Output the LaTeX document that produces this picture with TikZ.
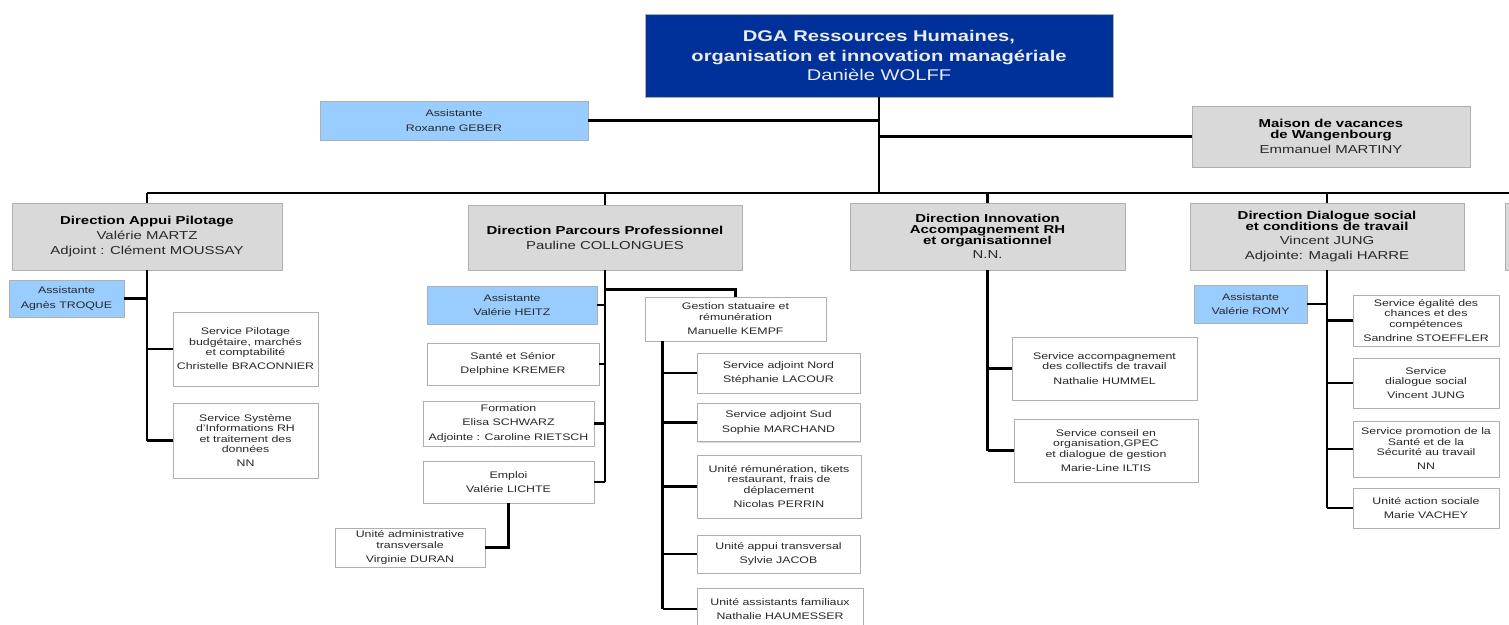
\documentclass[tikz,border=0pt]{standalone}
\usepackage{fontspec}
\setmainfont[FakeStretch=1.3]{Liberation Sans}
\usetikzlibrary{shadows}

\definecolor{dgablue}{RGB}{0,48,153}
\definecolor{asstblue}{RGB}{153,204,255}
\definecolor{dirgray}{RGB}{217,217,217}
\definecolor{edgegray}{RGB}{175,175,175}
\definecolor{txtgray}{RGB}{40,40,40}

\tikzset{
  base/.style={draw=edgegray, line width=.6pt, align=center, inner sep=0pt,
    text=txtgray, drop shadow={shadow xshift=1.2pt, shadow yshift=-1.2pt, opacity=.3}},
  dgabox/.style={base, fill=dgablue, text=white!92!black, font=\fontsize{15.5}{19.5}\selectfont},
  asst/.style={base, fill=asstblue, font=\fontsize{9.5}{14.5}\selectfont},
  dirbox/.style={base, fill=dirgray, font=\fontsize{11.5}{11}\selectfont},
  svc/.style={base, fill=white, font=\fontsize{9.5}{10.5}\selectfont},
  link/.style={line width=2.7pt, black}
}
\newcommand{\hd}[1]{{\bfseries\color{black}#1}}

\begin{document}
\begin{tikzpicture}[x=1pt, y=-1pt]
\useasboundingbox (0,0) rectangle (1509,624);

% top level
\node [dgabox, minimum width=468, minimum height=83] (dga) at (879,55.5)
  {\bfseries DGA Ressources Humaines,\\\bfseries organisation et innovation managériale\\Danièle WOLFF};
\node [asst, minimum width=268, minimum height=39] (roxanne) at (454,120.5) {Assistante\\Roxanne GEBER};
\node [dirbox, minimum width=278, minimum height=61] (maison) at (1331,136.5)
  {\hd{Maison de vacances}\\\hd{de Wangenbourg}\\[4.5pt]Emmanuel MARTINY};

% directions
\node [dirbox, minimum width=270, minimum height=67] (appui) at (147,236.5)
  {\hd{Direction Appui Pilotage}\\[4pt]Valérie MARTZ\\[4pt]Adjoint : Clément MOUSSAY};
\node [dirbox, minimum width=274, minimum height=65] (parcours) at (605,237.5)
  {\hd{Direction Parcours Professionnel}\\[4pt]Pauline COLLONGUES};
\node [dirbox, minimum width=275, minimum height=67] (innov) at (987.5,236.5)
  {\hd{Direction Innovation}\\\hd{Accompagnement RH}\\\hd{et organisationnel}\\[3pt]N.N.};
\node [dirbox, minimum width=274, minimum height=67] (dial) at (1327,236.5)
  {\hd{Direction Dialogue social}\\\hd{et conditions de travail}\\[3pt]Vincent JUNG\\[4pt]Adjointe: Magali HARRE};
\node [dirbox, minimum width=275, minimum height=67] (next) at (1642.5,236.5) {};

% appui pilotage
\node [asst, minimum width=115, minimum height=37] (troque) at (66.5,298.5) {Assistante\\Agnès TROQUE};
\node [svc, minimum width=145, minimum height=74] (pilot) at (245.5,349)
  {Service Pilotage\\budgétaire, marchés\\et comptabilité\\[3.5pt]Christelle BRACONNIER};
\node [svc, minimum width=145, minimum height=75] (sirh) at (245.5,440.5)
  {Service Système\\d'Informations RH\\et traitement des\\données\\[3.5pt]NN};

% parcours professionnel
\node [asst, minimum width=170, minimum height=38] (heitz) at (512,305) {Assistante\\Valérie HEITZ};
\node [svc, minimum width=172, minimum height=42] (sante) at (513,364) {Santé et Sénior\\[4pt]Delphine KREMER};
\node [svc, minimum width=171, minimum height=45] (formation) at (508.5,423.5)
  {Formation\\[4pt]Elisa SCHWARZ\\[4pt]Adjointe : Caroline RIETSCH};
\node [svc, minimum width=171, minimum height=42] (emploi) at (508.5,482) {Emploi\\[4pt]Valérie LICHTE};
\node [svc, minimum width=150, minimum height=39] (admin) at (410,547.5)
  {Unité administrative\\transversale\\[4pt]Virginie DURAN};
\node [svc, minimum width=181, minimum height=44] (gestion) at (735.5,319)
  {Gestion statuaire et\\rémunération\\[4pt]Manuelle KEMPF};
\node [svc, minimum width=163, minimum height=40] (nord) at (778.5,373)
  {Service adjoint Nord\\[4pt]Stéphanie LACOUR};
\node [svc, minimum width=163, minimum height=38] (sud) at (778.5,422.5)
  {Service adjoint Sud\\[4pt]Sophie MARCHAND};
\node [svc, minimum width=164, minimum height=63] (remun) at (779,486.5)
  {Unité rémunération, tikets\\restaurant, frais de\\déplacement\\[4pt]Nicolas PERRIN};
\node [svc, minimum width=163, minimum height=38] (appuit) at (778.5,554)
  {Unité appui transversal\\[4pt]Sylvie JACOB};
\node [svc, minimum width=166, minimum height=42] (famil) at (780,609)
  {Unité assistants familiaux\\[4pt]Nathalie HAUMESSER};

% innovation
\node [svc, minimum width=185, minimum height=63] (accomp) at (1104.5,368.5)
  {Service accompagnement\\des collectifs de travail\\[4pt]Nathalie HUMMEL};
\node [svc, minimum width=184, minimum height=63] (conseil) at (1106,450.5)
  {Service conseil en\\organisation,GPEC\\et dialogue de gestion\\[4pt]Marie-Line ILTIS};

% dialogue social
\node [asst, minimum width=113, minimum height=38] (romy) at (1250.5,304) {Assistante\\Valérie ROMY};
\node [svc, minimum width=146, minimum height=51] (egal) at (1426,320.5)
  {Service égalité des\\chances et des\\compétences\\[3.5pt]Sandrine STOEFFLER};
\node [svc, minimum width=146, minimum height=50] (social) at (1426,383)
  {Service\\dialogue social\\[3.5pt]Vincent JUNG};
\node [svc, minimum width=146, minimum height=56] (promo) at (1426,449)
  {Service promotion de la\\Santé et de la\\Sécurité au travail\\[3.5pt]NN};
\node [svc, minimum width=146, minimum height=40] (action) at (1426,508)
  {Unité action sociale\\[4pt]Marie VACHEY};

% connectors
\coordinate (busL) at (147,193);
\coordinate (busR) at (1509,193);
\draw [link] (dga.south) -- (dga.south |- busL);
\draw [link] (roxanne.east) -- (roxanne.east -| dga.south);
\draw [link] (maison.west) -- (maison.west -| dga.south);
\draw [link] (busL) -- (busR);
\draw [link] (appui.north |- busL) -- (appui.north);
\draw [link] (parcours.north |- busL) -- (parcours.north);
\draw [link] (innov.north |- busL) -- (innov.north);
\draw [link] (dial.north |- busL) -- (dial.north);

\draw [link] (appui.south) -- (appui.south |- sirh.west);
\foreach \n in {troque} \draw [link] (\n.east) -- (\n.east -| appui.south);
\foreach \n in {pilot,sirh} \draw [link] (\n.west) -- (\n.west -| appui.south);

\draw [link] (parcours.south) -- (parcours.south |- emploi.east);
\foreach \n in {heitz,sante,formation,emploi} \draw [link] (\n.east) -- (\n.east -| parcours.south);
\draw [link] (parcours.south) ++(0,19) -| (gestion.north);
\draw [link] (emploi.south) |- (admin.east);
\coordinate (gv) at ([xshift=18pt]gestion.south west);
\draw [link] (gv) -- (gv |- famil.west);
\foreach \n in {nord,sud,remun,appuit,famil} \draw [link] (\n.west) -- (\n.west -| gv);

\draw [link] (innov.south) -- (innov.south |- conseil.west);
\foreach \n in {accomp,conseil} \draw [link] (\n.west) -- (\n.west -| innov.south);

\draw [link] (dial.south) -- (dial.south |- action.west);
\draw [link] (romy.east) -- (romy.east -| dial.south);
\foreach \n in {egal,social,promo,action} \draw [link] (\n.west) -- (\n.west -| dial.south);
\end{tikzpicture}
\end{document}
